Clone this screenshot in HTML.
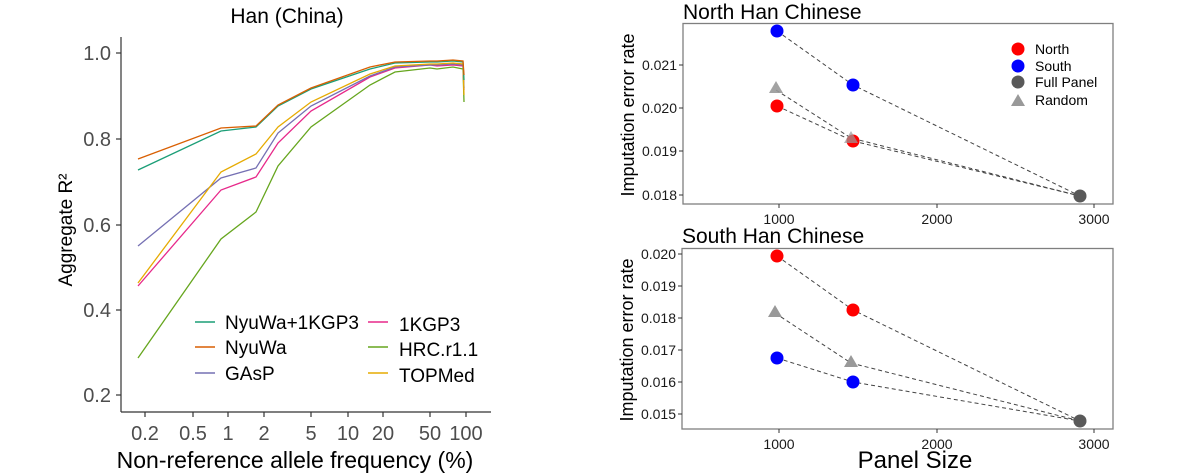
<!DOCTYPE html>
<html><head><meta charset="utf-8"><style>
html,body{margin:0;padding:0;background:#fff;}
svg{display:block;font-family:"Liberation Sans",Arial,sans-serif;}
</style></head><body>
<svg width="1200" height="475" viewBox="0 0 1200 475" xmlns="http://www.w3.org/2000/svg">
<rect width="1200" height="475" fill="#fff"/>
<!-- LEFT PLOT -->
<text x="287" y="23" font-size="21" text-anchor="middle" fill="#000">Han (China)</text>
<g stroke="#333" stroke-width="1.2" fill="none">
<line x1="121" y1="37" x2="121" y2="412"/>
<line x1="121" y1="412" x2="491" y2="412"/>
<line x1="116" y1="53" x2="121" y2="53"/><line x1="116" y1="139" x2="121" y2="139"/><line x1="116" y1="225" x2="121" y2="225"/><line x1="116" y1="310" x2="121" y2="310"/><line x1="116" y1="395" x2="121" y2="395"/>
<line x1="145" y1="412" x2="145" y2="417"/><line x1="193" y1="412" x2="193" y2="417"/><line x1="228" y1="412" x2="228" y2="417"/><line x1="264" y1="412" x2="264" y2="417"/><line x1="311" y1="412" x2="311" y2="417"/><line x1="348" y1="412" x2="348" y2="417"/><line x1="383" y1="412" x2="383" y2="417"/><line x1="430" y1="412" x2="430" y2="417"/><line x1="466" y1="412" x2="466" y2="417"/>
</g>
<g font-size="20" fill="#4d4d4d" text-anchor="end">
<text x="111" y="60">1.0</text><text x="111" y="146">0.8</text><text x="111" y="232">0.6</text><text x="111" y="317">0.4</text><text x="111" y="402">0.2</text>
</g>
<g font-size="20" fill="#4d4d4d" text-anchor="middle">
<text x="145" y="440">0.2</text><text x="193" y="440">0.5</text><text x="228" y="440">1</text><text x="264" y="440">2</text><text x="311" y="440">5</text><text x="348" y="440">10</text><text x="383" y="440">20</text><text x="430" y="440">50</text><text x="466" y="440">100</text>
</g>
<text x="295" y="468" font-size="23" text-anchor="middle" fill="#000">Non-reference allele frequency (%)</text>
<text transform="translate(72,230) rotate(-90)" font-size="19" text-anchor="middle" fill="#000">Aggregate R²</text>
<g fill="none" stroke-width="1.3">
<polyline stroke="#66a61e" points="138,358 221,239 256,212 278,166 311,127 370,85 395,72 430,68 437,69 453,67 463,69 464,102"/>
<polyline stroke="#e7298a" points="138,286 221,190 256,177 278,143 311,111 370,77 395,68 430,65 437,66 453,65 463,66 464,90"/>
<polyline stroke="#7570b3" points="138,246 221,178 256,168 278,133 311,106 370,76 395,67 430,65 437,65 453,64 463,65 464,88"/>
<polyline stroke="#e6ab02" points="138,283 221,172 256,154 278,127 311,102 370,74 395,66 430,64 437,64 453,63 463,64 464,95"/>
<polyline stroke="#1b9e77" points="138,170 221,131 256,127 278,106 311,89 370,69 395,63 430,62 437,62 453,61 463,62 464,80"/>
<polyline stroke="#d95f02" points="138,159 221,128 256,126 278,105 311,88 370,67 395,62 430,61 437,61 453,60 463,61 464,75"/>
</g>
<g stroke-width="1.5">
<line x1="195" y1="322" x2="215" y2="322" stroke="#1b9e77"/>
<line x1="195" y1="347" x2="215" y2="347" stroke="#d95f02"/>
<line x1="195" y1="373" x2="215" y2="373" stroke="#7570b3"/>
<line x1="368" y1="322" x2="388" y2="322" stroke="#e7298a"/>
<line x1="368" y1="347" x2="388" y2="347" stroke="#66a61e"/>
<line x1="368" y1="373" x2="388" y2="373" stroke="#e6ab02"/>
</g>
<g font-size="19" fill="#000">
<text x="225" y="329">NyuWa+1KGP3</text><text x="225" y="354">NyuWa</text><text x="225" y="380">GAsP</text>
<text x="399" y="331">1KGP3</text><text x="399" y="356">HRC.r1.1</text><text x="399" y="382">TOPMed</text>
</g>

<!-- TOP RIGHT -->
<text x="683" y="19" font-size="21" fill="#000">North Han Chinese</text>
<rect x="683" y="23.5" width="430" height="180.5" fill="none" stroke="#7f7f7f" stroke-width="1.3"/>
<g stroke="#333" stroke-width="1">
<line x1="679" y1="65" x2="683" y2="65"/><line x1="679" y1="108" x2="683" y2="108"/><line x1="679" y1="151" x2="683" y2="151"/><line x1="679" y1="195" x2="683" y2="195"/>
<line x1="779" y1="204" x2="779" y2="208"/><line x1="937" y1="204" x2="937" y2="208"/><line x1="1094" y1="204" x2="1094" y2="208"/>
</g>
<g font-size="14" fill="#1a1a1a" text-anchor="end">
<text x="677" y="70">0.021</text><text x="677" y="113">0.020</text><text x="677" y="156">0.019</text><text x="677" y="200">0.018</text>
</g>
<g font-size="14" fill="#1a1a1a" text-anchor="middle">
<text x="779" y="224">1000</text><text x="937" y="224">2000</text><text x="1094" y="224">3000</text>
</g>
<text transform="translate(634,115) rotate(-90)" font-size="18" text-anchor="middle" fill="#000">Imputation error rate</text>
<g fill="none" stroke="#444" stroke-width="1" stroke-dasharray="4,3">
<polyline points="777,31 853,85 1080,196"/>
<polyline points="776,90 851,138 1080,196"/>
<polyline points="777,106 853,141 1080,196"/>
</g>
<circle cx="777" cy="31" r="6.5" fill="#0000ff"/><circle cx="853" cy="85" r="6.5" fill="#0000ff"/>
<circle cx="777" cy="106" r="6.5" fill="#ff0000"/><circle cx="853" cy="141" r="6.5" fill="#ff0000"/>
<polygon points="776,81 783,93 769,93" fill="#999" opacity="0.9"/><polygon points="851,131 858,143 844,143" fill="#999" opacity="0.7"/>
<circle cx="1080" cy="196" r="6.5" fill="#595959"/>
<circle cx="1018" cy="49" r="6.5" fill="#ff0000"/><circle cx="1018" cy="66" r="6.5" fill="#0000ff"/><circle cx="1018" cy="82" r="6.5" fill="#595959"/>
<polygon points="1018,94 1025,106 1011,106" fill="#999"/>
<g font-size="14" fill="#000"><text x="1035" y="54">North</text><text x="1035" y="71">South</text><text x="1035" y="87">Full Panel</text><text x="1035" y="105">Random</text></g>

<!-- BOTTOM RIGHT -->
<text x="682" y="243" font-size="21" fill="#000">South Han Chinese</text>
<rect x="682" y="248.5" width="431" height="180.5" fill="none" stroke="#7f7f7f" stroke-width="1.3"/>
<g stroke="#333" stroke-width="1">
<line x1="678" y1="254" x2="682" y2="254"/><line x1="678" y1="286" x2="682" y2="286"/><line x1="678" y1="318" x2="682" y2="318"/><line x1="678" y1="350" x2="682" y2="350"/><line x1="678" y1="382" x2="682" y2="382"/><line x1="678" y1="414" x2="682" y2="414"/>
<line x1="779" y1="429" x2="779" y2="433"/><line x1="937" y1="429" x2="937" y2="433"/><line x1="1094" y1="429" x2="1094" y2="433"/>
</g>
<g font-size="14" fill="#1a1a1a" text-anchor="end">
<text x="676" y="259">0.020</text><text x="676" y="291">0.019</text><text x="676" y="323">0.018</text><text x="676" y="355">0.017</text><text x="676" y="387">0.016</text><text x="676" y="419">0.015</text>
</g>
<g font-size="14" fill="#1a1a1a" text-anchor="middle">
<text x="779" y="449">1000</text><text x="937" y="449">2000</text><text x="1094" y="449">3000</text>
</g>
<text transform="translate(633,340) rotate(-90)" font-size="18" text-anchor="middle" fill="#000">Imputation error rate</text>
<text x="915" y="468" font-size="24" text-anchor="middle" fill="#000">Panel Size</text>
<g fill="none" stroke="#444" stroke-width="1" stroke-dasharray="4,3">
<polyline points="777,256 853,310 1080,421"/>
<polyline points="775,313 851,363 1080,421"/>
<polyline points="777,358 853,382 1080,421"/>
</g>
<circle cx="777" cy="256" r="6.5" fill="#ff0000"/><circle cx="853" cy="310" r="6.5" fill="#ff0000"/>
<circle cx="777" cy="358" r="6.5" fill="#0000ff"/><circle cx="853" cy="382" r="6.5" fill="#0000ff"/>
<polygon points="775,305 782,317 768,317" fill="#999"/><polygon points="851,355 858,367 844,367" fill="#999"/>
<circle cx="1080" cy="421" r="6.5" fill="#595959"/>
</svg>
</body></html>
